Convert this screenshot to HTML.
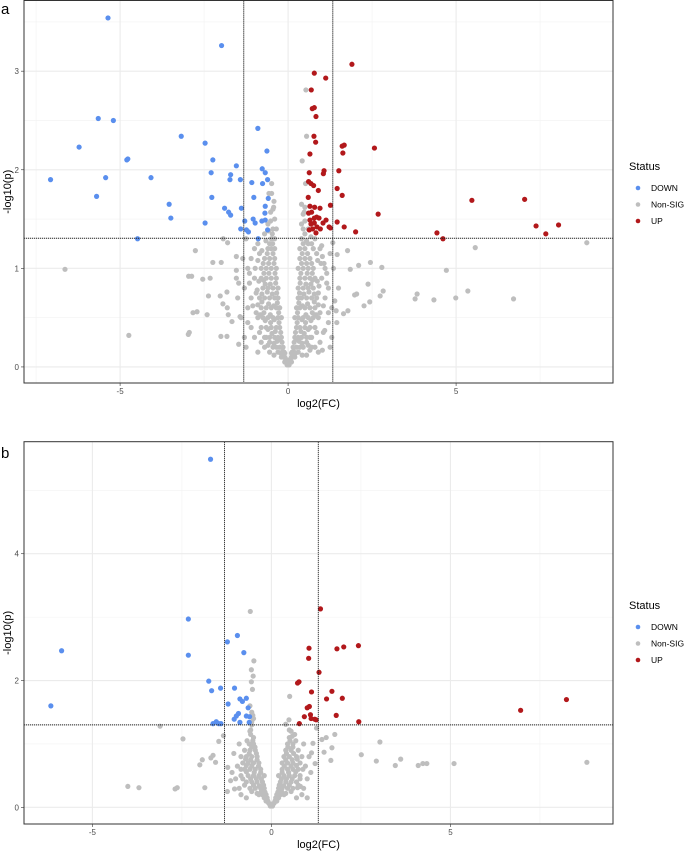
<!DOCTYPE html>
<html><head><meta charset="utf-8"><style>
body{margin:0;background:#fff;}
svg{display:block;font-family:"Liberation Sans",sans-serif;}
</style></head><body>
<svg id="chart" width="685" height="851" viewBox="0 0 685 851" xmlns="http://www.w3.org/2000/svg">
<text x="1" y="14" font-size="15" fill="#000">a</text>
<text x="1" y="458" font-size="15" fill="#000">b</text>
</svg>
<script>
// ---------- Panel A data ----------
const aDown = [[-5.36,3.54],[-1.98,3.26],[-5.65,2.52],[-5.2,2.50],[-6.22,2.23],[-3.18,2.34],[-2.47,2.27],[-0.9,2.42],[-4.8,2.10],[-4.77,2.11],[-2.24,2.10],[-7.07,1.90],[-5.43,1.92],[-4.08,1.92],[-2.29,1.97],[-1.71,1.95],[-1.73,1.90],[-1.54,2.04],[-1.42,1.90],[-0.77,2.01],[-0.68,1.97],[-0.63,2.19],[-0.61,1.90],[-1.08,1.87],[-0.76,1.86],[-5.70,1.73],[-2.27,1.72],[-1.02,1.72],[-0.59,1.71],[-3.54,1.65],[-3.49,1.51],[-2.47,1.46],[-1.89,1.61],[-1.77,1.57],[-1.71,1.54],[-1.39,1.61],[-0.68,1.63],[-0.69,1.56],[-1.04,1.50],[-0.98,1.46],[-1.29,1.48],[-0.78,1.48],[-0.68,1.49],[-1.41,1.40],[-1.24,1.39],[-1.18,1.37],[-0.61,1.39],[-0.89,1.30],[-4.48,1.30]];
const aUp = [[1.90,3.07],[0.78,2.98],[1.12,2.93],[0.69,2.81],[0.72,2.62],[0.78,2.63],[0.83,2.54],[0.77,2.34],[0.82,2.28],[0.65,2.16],[1.61,2.24],[1.67,2.25],[1.63,2.17],[2.57,2.22],[0.63,1.97],[1.07,1.99],[1.05,1.96],[1.51,1.99],[0.61,1.88],[0.68,1.86],[0.76,1.84],[0.90,1.79],[1.46,1.81],[1.61,1.74],[0.60,1.72],[5.47,1.69],[7.04,1.70],[0.65,1.63],[0.79,1.62],[1.26,1.64],[0.95,1.61],[0.61,1.56],[0.70,1.57],[0.78,1.51],[0.85,1.52],[0.92,1.51],[0.65,1.49],[1.13,1.49],[1.04,1.46],[1.46,1.47],[2.68,1.55],[0.68,1.45],[0.78,1.46],[0.86,1.42],[0.63,1.39],[0.73,1.40],[1.22,1.42],[1.26,1.41],[0.96,1.40],[1.67,1.42],[0.83,1.36],[2.01,1.37],[7.38,1.43],[8.05,1.44],[7.67,1.35],[4.43,1.36],[4.61,1.30]];
const aNs = [[-6.64,0.99],[-4.74,0.32],[-2.94,0.35],[-2.97,0.33],[-2.83,0.55],[-2.71,0.56],[-2.96,0.92],[-2.87,0.92],[-2.54,0.89],[-2.32,0.90],[-2.24,1.06],[-1.99,1.06],[-2.76,1.18],[-2.37,0.72],[-2.41,0.53],[-2.02,0.72],[-1.94,0.64],[-1.82,0.76],[-1.78,0.53],[-1.81,0.60],[-2.0,0.31],[-1.82,0.31],[-1.47,0.23],[-1.67,0.46],[-1.93,1.30],[-1.80,1.26],[-1.54,1.12],[-1.54,0.98],[-1.54,0.90],[-1.47,0.85],[-1.43,0.51],[5.57,1.21],[8.89,1.26],[4.71,0.98],[5.35,0.77],[4.99,0.70],[4.34,0.68],[3.78,0.69],[3.84,0.74],[6.71,0.69],[2.79,1.01],[2.83,0.77],[2.74,0.72],[2.45,1.06],[2.38,0.84],[2.43,0.66],[2.26,0.62],[2.10,1.03],[2.04,0.74],[1.98,0.73],[1.77,1.18],[1.46,1.14],[1.85,0.99],[1.65,0.54],[1.78,0.57],[1.43,0.57],[1.39,0.67],[1.09,0.37],[1.02,0.17],[0.65,0.17],[0.42,2.09],[0.55,2.34],[0.53,2.81],[0.52,1.86],[-0.49,1.86],[-0.57,1.76],[-0.49,1.76],[-0.43,1.62],[1.0,1.23],[1.33,1.26],[1.02,1.12],[1.07,1.05],
[-0.05,0.05],[-0.1,0.05],[-0.1,0.1],[-0.15,0.1],[-0.2,0.1],[-0.15,0.2],[-0.25,0.2],[-0.35,0.2],[-0.45,0.2],[-0.2,0.3],[-0.3,0.3],[-0.4,0.3],[-0.55,0.3],[-0.7,0.3],[-0.25,0.4],[-0.35,0.4],[-0.5,0.4],[-0.65,0.4],[-0.8,0.4],[-0.2,0.5],[-0.3,0.5],[-0.45,0.5],[-0.6,0.5],[-0.75,0.5],[-0.9,0.5],[-0.25,0.6],[-0.35,0.6],[-0.5,0.6],[-0.65,0.6],[-0.8,0.6],[-0.3,0.7],[-0.4,0.7],[-0.55,0.7],[-0.7,0.7],[-0.85,0.7],[-0.3,0.8],[-0.45,0.8],[-0.6,0.8],[-0.75,0.8],[-0.35,0.9],[-0.5,0.9],[-0.65,0.9],[-0.8,0.9],[-0.35,1.0],[-0.5,1.0],[-0.65,1.0],[-0.8,1.0],[-0.4,1.1],[-0.55,1.1],[-0.7,1.1],[-0.4,1.2],[-0.5,1.2],[-0.6,1.2],[-0.4,1.3],[-0.5,1.3],[-0.45,1.4],[-0.35,1.4],[-0.4,1.5],[-0.45,1.6],[-0.42,1.68],[-0.3,0.15],[-0.55,0.25],[-1.0,0.9],[-1.1,1.1],[-0.9,1.25],[-1.0,1.2],[-1.2,1.0],[-1.3,0.8],[-1.2,0.6],[-1.1,0.4],[-1.3,0.3],[-1.0,0.3],[-0.8,0.25],[-1.1,0.7],[-0.95,0.55],[-1.4,0.5],[-1.5,0.7],[-1.25,0.2],[-0.7,1.35],[-0.6,1.45],[-1.15,0.85],[-1.35,1.1],[-1.25,1.3],[-0.9,0.15],[-0.7,0.2],[-1.2,0.45],[-0.95,0.75],[-0.85,1.15],
[0.05,0.05],[0.1,0.05],[0.1,0.1],[0.15,0.1],[0.2,0.1],[0.15,0.2],[0.25,0.2],[0.35,0.2],[0.45,0.2],[0.2,0.3],[0.3,0.3],[0.4,0.3],[0.55,0.3],[0.7,0.3],[0.25,0.4],[0.35,0.4],[0.5,0.4],[0.65,0.4],[0.8,0.4],[0.2,0.5],[0.3,0.5],[0.45,0.5],[0.6,0.5],[0.75,0.5],[0.9,0.5],[0.25,0.6],[0.35,0.6],[0.5,0.6],[0.65,0.6],[0.8,0.6],[0.3,0.7],[0.4,0.7],[0.55,0.7],[0.7,0.7],[0.85,0.7],[0.3,0.8],[0.45,0.8],[0.6,0.8],[0.75,0.8],[0.35,0.9],[0.5,0.9],[0.65,0.9],[0.8,0.9],[0.3,1.0],[0.45,1.0],[0.6,1.0],[0.75,1.0],[0.35,1.1],[0.5,1.1],[0.65,1.1],[0.35,1.2],[0.5,1.2],[0.6,1.25],[0.4,1.3],[0.5,1.35],[0.4,1.45],[0.45,1.55],[0.4,1.65],[0.5,1.62],[0.3,0.15],[0.55,0.25],[1.0,0.9],[1.1,1.0],[0.95,1.2],[1.2,0.8],[1.3,0.6],[1.2,0.45],[1.05,0.35],[1.3,0.3],[0.95,0.25],[0.8,0.2],[1.1,0.7],[0.95,0.55],[1.45,0.45],[1.5,0.8],[1.25,0.2],[0.7,1.25],[0.8,1.3],[1.15,0.85],[1.35,1.0],[1.25,1.15],[0.9,0.15],[0.7,0.2],[1.2,0.55],[0.9,0.75],[0.85,1.15]];
const aNsDense = [[-0.03,0.02],[0.03,0.02],[0,0.04],[-0.07,0.08],[0.07,0.08],[-0.12,0.15],[0.12,0.15],[-0.18,0.25],[0.18,0.25],[-0.22,0.35],[0.22,0.35],[-0.27,0.45],[0.27,0.45],[-0.28,0.55],[0.28,0.55],[-0.32,0.65],[0.32,0.65],[-0.34,0.75],[0.34,0.75],[-0.37,0.85],[0.36,0.85],[-0.39,0.95],[0.38,0.95],[-0.42,1.05],[0.4,1.05],[-0.45,1.15],[0.42,1.15],[-0.46,1.25],[0.45,1.25],[-0.47,1.35],[0.45,1.4],[-0.41,0.48],[0.41,0.48],[-0.53,0.53],[0.53,0.53],[-0.43,0.62],[0.43,0.62],[-0.58,0.64],[0.58,0.64],[-0.47,0.74],[0.47,0.74],[-0.62,0.76],[0.62,0.76],[-0.53,0.84],[0.53,0.84],[-0.68,0.84],[0.68,0.84],[-0.57,0.95],[0.57,0.95],[-0.72,0.95],[0.72,0.95],[-0.58,1.05],[0.55,1.05],[-0.74,1.05],[0.7,1.05],[-0.62,1.15],[0.58,1.15],[-0.55,1.25],[0.55,1.28],[-0.58,1.38],[0.6,1.4],[-0.52,1.48],[0.5,1.48],[-0.52,1.57],[0.48,1.57],[-0.38,0.36],[0.38,0.36],[-0.48,0.34],[0.48,0.34],[-0.6,0.38],[0.6,0.38],[-0.33,0.26],[0.33,0.26],[-0.42,0.24],[0.42,0.24],[-0.52,0.45],[0.52,0.45],[-0.68,0.47],[0.68,0.47],[-0.72,0.55],[0.72,0.55],[-0.83,0.53],[0.83,0.53],[-0.78,0.66],[0.78,0.66],[-0.9,0.63],[0.9,0.63],[-0.78,0.74],[0.78,0.74],[-0.92,0.78],[0.92,0.82],[-0.87,0.87],[0.87,0.87],[-0.73,0.88],[0.73,0.88],[-0.9,1.08],[0.88,1.08],[-0.78,1.18],[0.75,1.2],[-0.66,1.28],[0.68,1.32],[-0.25,0.28],[0.25,0.28],[-0.16,0.16],[0.16,0.16],[-0.22,0.14],[0.22,0.14],[-0.6,0.22],[0.6,0.22],[-0.65,0.3],[0.65,0.3],[-0.85,0.35],[0.85,0.35],[-1.05,0.62],[1.05,0.62],[-1.15,0.95],[1.15,0.95],[-0.98,1.0],[0.98,1.05],[-0.55,0.15],[0.55,0.12],[-0.42,0.12],[0.42,0.12],[-0.1,0.14],[0.1,0.14]];
const aXTicks = [-5,0,5];
const aYTicks = [0,1,2,3];
// ---------- Panel B data ----------
const bDown = [[-1.70,5.49],[-2.32,2.97],[-2.32,2.40],[-5.86,2.47],[-6.16,1.60],[-0.95,2.71],[-1.23,2.61],[-0.77,2.44],[-1.75,1.99],[-1.67,1.84],[-1.42,1.88],[-1.03,1.88],[-1.21,1.63],[-0.88,1.71],[-0.81,1.67],[-0.70,1.72],[-0.65,1.57],[-0.92,1.48],[-0.98,1.44],[-1.04,1.39],[-0.70,1.44],[-0.61,1.43],[-0.88,1.34],[-0.62,1.34],[-1.63,1.32],[-1.54,1.35],[-1.47,1.32],[-1.41,1.32]];
const bUp = [[1.37,3.13],[1.05,2.51],[1.04,2.35],[1.83,2.50],[2.02,2.53],[2.43,2.55],[1.33,2.13],[0.77,1.98],[0.73,1.96],[1.12,1.82],[1.69,1.83],[1.54,1.71],[1.98,1.72],[1.00,1.57],[1.06,1.59],[0.92,1.43],[1.09,1.46],[1.11,1.40],[1.21,1.39],[1.25,1.38],[1.81,1.45],[0.78,1.32],[2.44,1.35],[6.96,1.53],[8.24,1.70]];
const bNs = [[-0.59,3.09],[-0.49,2.31],[-0.56,2.17],[-0.51,2.07],[-0.56,1.98],[-0.53,1.86],[0.51,1.75],[-3.11,1.28],[-2.47,1.08],[-4.01,0.33],[-3.70,0.31],[-2.69,0.29],[-2.63,0.31],[-1.86,0.31],[-2.0,0.67],[-1.93,0.75],[-1.69,0.78],[-1.63,0.82],[-1.56,0.71],[-1.47,1.04],[-1.34,1.13],[-1.22,0.63],[-1.14,0.42],[-1.23,0.25],[-1.03,0.29],[2.51,0.83],[3.03,1.03],[2.93,0.73],[3.46,0.66],[3.61,0.76],[4.10,0.66],[4.23,0.69],[4.34,0.69],[5.10,0.69],[8.81,0.71],[1.77,1.15],[1.53,1.10],[1.41,1.07],[1.69,0.94],[1.47,0.87],[1.66,0.74],[1.12,0.86],[1.16,1.01],[1.22,0.69],[0.81,0.33],[0.73,0.31],[0.40,1.31],[0.49,1.38],[1.26,1.25],
[-0.05,0.05],[-0.1,0.1],[-0.15,0.1],[-0.15,0.2],[-0.25,0.2],[-0.35,0.2],[-0.2,0.3],[-0.3,0.3],[-0.45,0.3],[-0.6,0.3],[-0.25,0.4],[-0.4,0.4],[-0.55,0.4],[-0.7,0.4],[-0.2,0.5],[-0.35,0.5],[-0.5,0.5],[-0.65,0.5],[-0.85,0.5],[-0.3,0.6],[-0.45,0.6],[-0.6,0.6],[-0.75,0.6],[-0.35,0.7],[-0.5,0.7],[-0.65,0.7],[-0.8,0.7],[-0.4,0.8],[-0.55,0.8],[-0.7,0.8],[-0.45,0.9],[-0.6,0.9],[-0.75,0.9],[-0.5,1.0],[-0.62,1.0],[-0.5,1.1],[-0.6,1.2],[-0.55,1.3],[-0.5,1.4],[-0.55,1.5],[-0.6,1.6],[-0.9,0.3],[-1.0,0.45],[-0.95,0.65],[-1.1,0.55],[-0.85,0.2],[-0.7,0.15],[-1.05,0.85],[-0.9,1.0],
[0.05,0.05],[0.1,0.1],[0.15,0.1],[0.15,0.2],[0.25,0.2],[0.35,0.2],[0.2,0.3],[0.3,0.3],[0.45,0.3],[0.6,0.3],[0.25,0.4],[0.4,0.4],[0.55,0.4],[0.7,0.4],[0.2,0.5],[0.35,0.5],[0.5,0.5],[0.65,0.5],[0.8,0.5],[0.3,0.6],[0.45,0.6],[0.6,0.6],[0.75,0.6],[0.3,0.7],[0.45,0.7],[0.6,0.7],[0.8,0.7],[0.35,0.8],[0.5,0.8],[0.7,0.8],[0.4,0.9],[0.55,0.9],[0.75,0.9],[0.45,1.0],[0.6,1.0],[0.5,1.1],[0.65,1.15],[0.55,1.2],[0.9,0.3],[1.0,0.45],[0.95,0.65],[1.1,0.55],[0.85,0.2],[0.7,0.15],[1.05,0.8],[0.9,1.0],[1.0,0.15]];
const bNsDense = [[-0.03,0.02],[0.03,0.02],[0,0.05],[-0.08,0.07],[0.08,0.07],[-0.12,0.15],[0.12,0.15],[-0.18,0.24],[0.18,0.24],[-0.22,0.35],[0.22,0.35],[-0.28,0.45],[0.28,0.45],[-0.3,0.55],[0.3,0.55],[-0.36,0.65],[0.36,0.65],[-0.4,0.75],[0.4,0.75],[-0.42,0.85],[0.42,0.85],[-0.46,0.95],[0.46,0.95],[-0.52,1.05],[0.52,1.05],[-0.42,0.45],[0.42,0.45],[-0.58,0.45],[0.58,0.45],[-0.48,0.55],[0.48,0.55],[-0.7,0.56],[0.68,0.56],[-0.55,0.65],[0.55,0.65],[-0.7,0.66],[0.7,0.66],[-0.58,0.75],[0.58,0.75],[-0.72,0.76],[0.72,0.76],[-0.62,0.85],[0.62,0.85],[-0.55,0.95],[0.6,0.95],[-0.68,1.05],[0.68,1.05],[-0.58,1.15],[0.58,1.12],[-0.34,0.34],[0.34,0.34],[-0.5,0.35],[0.5,0.35],[-0.28,0.25],[0.28,0.25],[-0.4,0.22],[0.4,0.22],[-0.55,0.25],[0.55,0.25],[-0.75,0.35],[0.75,0.35],[-0.8,0.45],[0.8,0.45],[-0.85,0.6],[0.88,0.6],[-0.85,0.8],[0.85,0.8],[-0.2,0.15],[0.2,0.15],[-0.55,1.35],[-0.52,1.45],[-0.58,1.22],[0.5,1.22]];
const bXTicks = [-5,0,5];
const bYTicks = [0,2,4];

const NS='http://www.w3.org/2000/svg';
const svg=document.getElementById('chart');
function mk(tag,attrs,parent){const e=document.createElementNS(NS,tag);for(const k in attrs)e.setAttribute(k,attrs[k]);(parent||svg).appendChild(e);return e;}

function panel(id,box,xDom,yDom,xTicks,yTicks,xMinor,yMinor,down,up,ns,vlines,hline,legY){
  const g=mk('g',{});
  
  
  const sx=v=>box.x0+(v-xDom[0])/(xDom[1]-xDom[0])*(box.x1-box.x0);
  const sy=v=>box.y1-(v-yDom[0])/(yDom[1]-yDom[0])*(box.y1-box.y0);
  mk('rect',{x:box.x0,y:box.y0,width:box.x1-box.x0,height:box.y1-box.y0,fill:'#fff'},g);
  xMinor.forEach(v=>mk('line',{x1:sx(v),x2:sx(v),y1:box.y0,y2:box.y1,stroke:'#f2f2f2','stroke-width':0.6},g));
  yMinor.forEach(v=>mk('line',{y1:sy(v),y2:sy(v),x1:box.x0,x2:box.x1,stroke:'#f2f2f2','stroke-width':0.6},g));
  xTicks.forEach(v=>{mk('line',{x1:sx(v),x2:sx(v),y1:box.y0,y2:box.y1,stroke:'#ebebeb','stroke-width':1.1},g);
    mk('line',{x1:sx(v),x2:sx(v),y1:box.y1,y2:box.y1+3,stroke:'#333','stroke-width':0.6},g);
    const t=mk('text',{x:sx(v),y:box.y1+11,'font-size':8,fill:'#4d4d4d','text-anchor':'middle'},g);t.textContent=v;
    
    });
  yTicks.forEach(v=>{mk('line',{y1:sy(v),y2:sy(v),x1:box.x0,x2:box.x1,stroke:'#ebebeb','stroke-width':1.1},g);
    mk('line',{y1:sy(v),y2:sy(v),x1:box.x0-3,x2:box.x0,stroke:'#333','stroke-width':0.6},g);
    const t=mk('text',{x:box.x0-5,y:sy(v)+3,'font-size':8,fill:'#4d4d4d','text-anchor':'end'},g);t.textContent=v;
    
    });
  const dot=(arr,col,name)=>arr.forEach(p=>{const c=mk('circle',{cx:sx(p[0]),cy:sy(p[1]),r:2.6,fill:col},g);
    
    });
  dot(ns,'#bebebe','point-non-sig');
  dot(down,'#5a8fee','point-down');
  dot(up,'#b2181b','point-up');
  vlines.forEach(v=>{const l=mk('line',{x1:sx(v),x2:sx(v),y1:box.y0,y2:box.y1,stroke:'#222','stroke-width':1,'stroke-dasharray':'1.2 0.8'},g);
    
    });
  const hl=mk('line',{x1:box.x0,x2:box.x1,y1:sy(hline),y2:sy(hline),stroke:'#222','stroke-width':1,'stroke-dasharray':'1.2 0.8'},g);
  
  
  mk('rect',{x:box.x0,y:box.y0,width:box.x1-box.x0,height:box.y1-box.y0,fill:'none',stroke:'#333','stroke-width':1},g);
  const xt=mk('text',{x:(box.x0+box.x1)/2,y:box.y1+24,'font-size':11,fill:'#000','text-anchor':'middle'},g);xt.textContent='log2(FC)';
  
  
  const cy=(box.y0+box.y1)/2;
  const yt=mk('text',{x:0,y:0,'font-size':11,fill:'#000','text-anchor':'middle',transform:`translate(11,${cy}) rotate(-90)`},g);yt.textContent='-log10(p)';
  
  
  const lg=mk('g',{},g);
  
  
  const lt=mk('text',{x:629,y:legY,'font-size':11,fill:'#000'},lg);lt.textContent='Status';
  [['DOWN','#5a8fee'],['Non-SIG','#bebebe'],['UP','#b2181b']].forEach((e,i)=>{
    const yy=legY+18+i*16.5;
    const c=mk('circle',{cx:638,cy:yy,r:2.3,fill:e[1]},lg);
    
    
    const t=mk('text',{x:651,y:yy+3,'font-size':8.5,fill:'#000'},lg);t.textContent=e[0];
    
    
  });
}
panel('panel-a',{x0:24,x1:613,y0:0.5,y1:383},[-7.86,9.67],[-0.163,3.717],aXTicks,aYTicks,[-7.5,-2.5,2.5,7.5],[0.5,1.5,2.5,3.5],aDown,aUp,aNs.concat(aNsDense),[-1.32,1.33],1.305,170);
panel('panel-b',{x0:24,x1:613,y0:441.7,y1:824},[-6.91,9.54],[-0.263,5.767],bXTicks,bYTicks,[-2.5,2.5,7.5],[1,3,5],bDown,bUp,bNs.concat(bNsDense),[-1.31,1.31],1.30,609);
</script>
</body></html>
